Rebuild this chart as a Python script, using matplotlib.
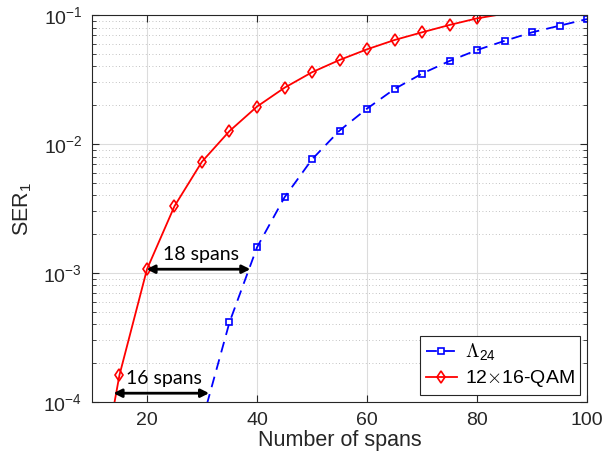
import matplotlib
matplotlib.use('Agg')
import matplotlib.pyplot as plt
import numpy as np

plt.rcParams['font.family'] = ['Liberation Sans', 'DejaVu Sans']
plt.rcParams['mathtext.fontset'] = 'cm'

# data
spans_lam = [30, 35, 40, 45, 50, 55, 60, 65, 70, 75, 80, 85, 90, 95, 100]
ser_lam = [7.0e-5, 4.15e-4, 1.58e-3, 3.86e-3, 7.6e-3, 1.27e-2, 1.88e-2, 2.67e-2,
           3.51e-2, 4.4e-2, 5.35e-2, 6.3e-2, 7.34e-2, 8.26e-2, 9.3e-2]
spans_qam = [10, 15, 20, 25, 30, 35, 40, 45, 50, 55, 60, 65, 70, 75, 80, 85]
ser_qam = [1.1e-5, 1.62e-4, 1.07e-3, 3.3e-3, 7.3e-3, 1.26e-2, 1.95e-2, 2.73e-2,
           3.6e-2, 4.48e-2, 5.42e-2, 6.4e-2, 7.34e-2, 8.37e-2, 9.42e-2, 1.023e-1]

arrow_18 = (19.9, 38.8, 1.07e-3)
arrow_16 = (13.9, 31.3, 1.17e-4)
label_18 = (29.9, 1.4e-3, '18 spans')
label_16 = (23.0, 1.53e-4, '16 spans')

xticks = [20, 40, 60, 80, 100]
yticks = [1e-4, 1e-3, 1e-2, 1e-1]
ytick_labels = [r'$\mathregular{10^{-4}}$', r'$\mathregular{10^{-3}}$',
                r'$\mathregular{10^{-2}}$', r'$\mathregular{10^{-1}}$']

YMIN, YMAX = 1e-4, 1e-1
grey = '#262626'


def inside(y):
    # like matlab: no markers for points outside the y limits
    return [i for i, v in enumerate(y) if YMIN <= v <= YMAX]


fig = plt.figure(figsize=(6.08, 4.59), dpi=100)
ax = fig.add_axes([0.1513, 0.1242, 0.8142, 0.8431])

l1, = ax.semilogy(spans_lam, ser_lam, '--s', color='blue', lw=1.3, ms=4.5,
                  mfc='none', mew=1.2, dashes=(6, 4), markevery=inside(ser_lam))
l2, = ax.semilogy(spans_qam, ser_qam, '-d', color='red', lw=1.3, ms=6.5,
                  mfc='none', mew=1.2, markevery=inside(ser_qam))

ax.set_xlim(10, 100)
ax.set_ylim(YMIN, YMAX)
ax.set_xticks(xticks)
ax.set_yticks(yticks)
ax.set_yticklabels(ytick_labels)

ax.grid(True, which='major', color='#dcdcdc', lw=0.8)
ax.grid(True, which='minor', axis='y', color='#b0b0b0', lw=0.6, ls=(0, (1, 3)))
ax.set_axisbelow(True)

ax.tick_params(which='both', direction='in', top=True, right=True, colors=grey,
               labelsize=14, pad=7)
ax.tick_params(which='major', length=5)
ax.tick_params(which='minor', length=3)
for s in ax.spines.values():
    s.set_color(grey)
    s.set_linewidth(0.8)

ax.set_xlabel('Number of spans', fontsize=15.5, color=grey, labelpad=1)
ax.set_ylabel(r'SER$\mathregular{_1}$', fontsize=15.5, color=grey, labelpad=7)

# span annotations
for a in (arrow_18, arrow_16):
    ax.annotate('', xy=(a[1], a[2]), xytext=(a[0], a[2]),
                arrowprops=dict(arrowstyle='<|-|>', color='k', lw=2,
                                mutation_scale=12, shrinkA=0, shrinkB=0))
for t in (label_18, label_16):
    ax.text(t[0], t[1], t[2], ha='center', va='center', fontsize=14,
            family=['Lato', 'DejaVu Sans'], color='k')

leg = ax.legend([l1, l2], [r'$\Lambda_{\mathregular{24}}$', r'12$\times$16-QAM'],
                loc='lower right', fontsize=14, fancybox=False, framealpha=1,
                edgecolor=grey, handlelength=1.6, borderpad=0.3,
                labelspacing=0.25, handletextpad=0.4, borderaxespad=0.35)
leg.get_frame().set_linewidth(0.8)

fig.savefig('out.png', dpi=100)
